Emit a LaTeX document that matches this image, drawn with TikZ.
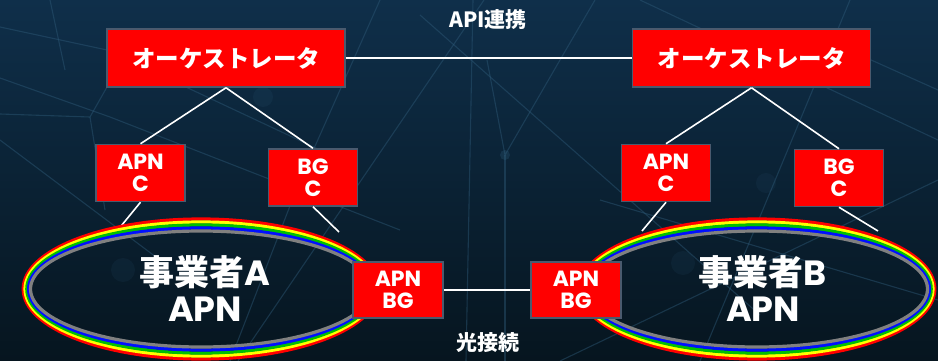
\documentclass[tikz,border=0pt]{standalone}
\usepackage{fontspec}
\setmainfont{Poppins}
\newfontfamily\jp{Noto Sans CJK JP}
\definecolor{bgtop}{HTML}{0F2F4A}
\definecolor{bgbot}{HTML}{06151F}
\definecolor{netline}{HTML}{2E5A78}
\definecolor{boxred}{HTML}{FF0000}
\definecolor{boxedge}{HTML}{4A5A6E}
\definecolor{rbred}{HTML}{FF0000}
\definecolor{rbyellow}{HTML}{FFFF00}
\definecolor{rbgreen}{HTML}{00C000}
\definecolor{rbblue}{HTML}{0010FF}
\definecolor{rbgray}{HTML}{808080}
\tikzset{
  redbox/.style={draw=boxedge, line width=1.5pt, fill=boxred, text=white,
    font=\bfseries\fontsize{22}{25}\selectfont, align=center, inner sep=0pt},
  orchbox/.style={redbox, minimum width=238pt, minimum height=58pt,
    font=\jp\bfseries\fontsize{23.5}{26}\selectfont},
  smallbox/.style={redbox, minimum width=89pt, minimum height=57pt},
  link/.style={draw=white, line width=1.6pt},
  net/.style={draw=netline, line width=1.1pt, opacity=0.45},
  lbl/.style={text=white, font=\jp\bfseries\fontsize{21}{24}\selectfont, inner sep=0pt},
  biglbl/.style={text=white, font=\bfseries\fontsize{35}{40}\selectfont, align=center, inner sep=0pt}
}
\begin{document}
\begin{tikzpicture}[x=1pt, y=-1pt]
% background
\shade[top color=bgtop, bottom color=bgbot] (0,0) rectangle (938,361);
\useasboundingbox (0,0) rectangle (938,361);
% faint network
\draw[net] (484,0) -- (238,361);
\draw[net] (473,0) -- (466,361);
\draw[net] (420,15) -- (760,315);
\draw[net] (487,60) -- (505,155) -- (560,60) -- (595,0);
\draw[net] (505,155) -- (505,361);
\draw[net] (0,27) -- (107,50) -- (320,150);
\draw[net] (0,78) -- (110,117) -- (400,230);
\draw[net] (0,114) -- (90,117) -- (107,87);
\draw[net] (90,117) -- (105,210);
\draw[net] (50,0) -- (65,70);
\draw[net] (0,140) -- (160,260);
\draw[net] (860,55) -- (938,90);
\draw[net] (640,0) -- (938,140);
\draw[net] (700,361) -- (850,0);
\draw[net] (560,361) -- (938,180);
\draw[net] (230,361) -- (300,180) -- (380,0);
\draw[net] (600,200) -- (938,300);
\fill[netline, opacity=0.3] (505,155) circle (5pt);
\fill[netline, opacity=0.15] (263,97) circle (10pt);
\fill[netline, opacity=0.12] (123,270) circle (12pt);
\fill[netline, opacity=0.12] (683,263) circle (12pt);
\fill[netline, opacity=0.12] (766,183) circle (10pt);

% top labels
\node[lbl] (api) at (488,20) {API連携};
\node[lbl] (hikari) at (488,343) {光接続};

% boxes
\node[orchbox] (orchL) at (226,58) {オーケストレータ};
\node[orchbox] (orchR) at (751.5,58) {オーケストレータ};
\node[smallbox] (apncL) at (140.5,173) {APN\\[-3pt]C};
\node[smallbox] (bgcL) at (313,177.5) {BG\\[-3pt]C};
\node[smallbox] (apncR) at (666,173) {APN\\[-3pt]C};
\node[smallbox] (bgcR) at (839,178) {BG\\[-3pt]C};

% free ends on the rings
\coordinate (eA1) at (117,231);
\coordinate (eA2) at (339,232);
\coordinate (eB1) at (642,231);
\coordinate (eB2) at (878,231);

% connectors
\draw[link] (orchL.east) -- (orchR.west);
\draw[link] (orchL.south) -- (apncL.north);
\draw[link] (orchL.south) -- (bgcL.north);
\draw[link] (orchR.south) -- (apncR.north);
\draw[link] (orchR.south) -- (bgcR.north);
\draw[link] (apncL.south) -- (eA1);
\draw[link] (bgcL.south) -- (eA2);
\draw[link] (apncR.south) -- (eB1);
\draw[link] (bgcR.south) -- (eB2);

% rainbow rings
\coordinate (ringA) at (201,289);
\coordinate (ringB) at (757,289);
\foreach \c/\rx/\ry in {rbred/177.8/70, rbyellow/176/67, rbgreen/174.2/64, rbblue/172.4/61, rbgray/170.5/58}{
  \draw[\c, line width=3.2pt] (ringA) ellipse [x radius=\rx pt, y radius=\ry pt];
  \draw[\c, line width=3.2pt] (ringB) ellipse [x radius=\rx pt, y radius=\ry pt];
}

\node[biglbl] (opA) at (205,289) {{\jp 事業者}A\\[-4pt]APN};
\node[biglbl] (opB) at (763,289) {{\jp 事業者}B\\[-4pt]APN};

% gateway boxes
\node[smallbox, minimum height=56pt, minimum width=90pt] (gwA) at (398,290) {APN\\[-3pt]BG};
\node[smallbox, minimum height=56pt, minimum width=90pt] (gwB) at (576,290) {APN\\[-3pt]BG};
\draw[link] (gwA.east) -- (gwB.west);
\end{tikzpicture}
\end{document}
